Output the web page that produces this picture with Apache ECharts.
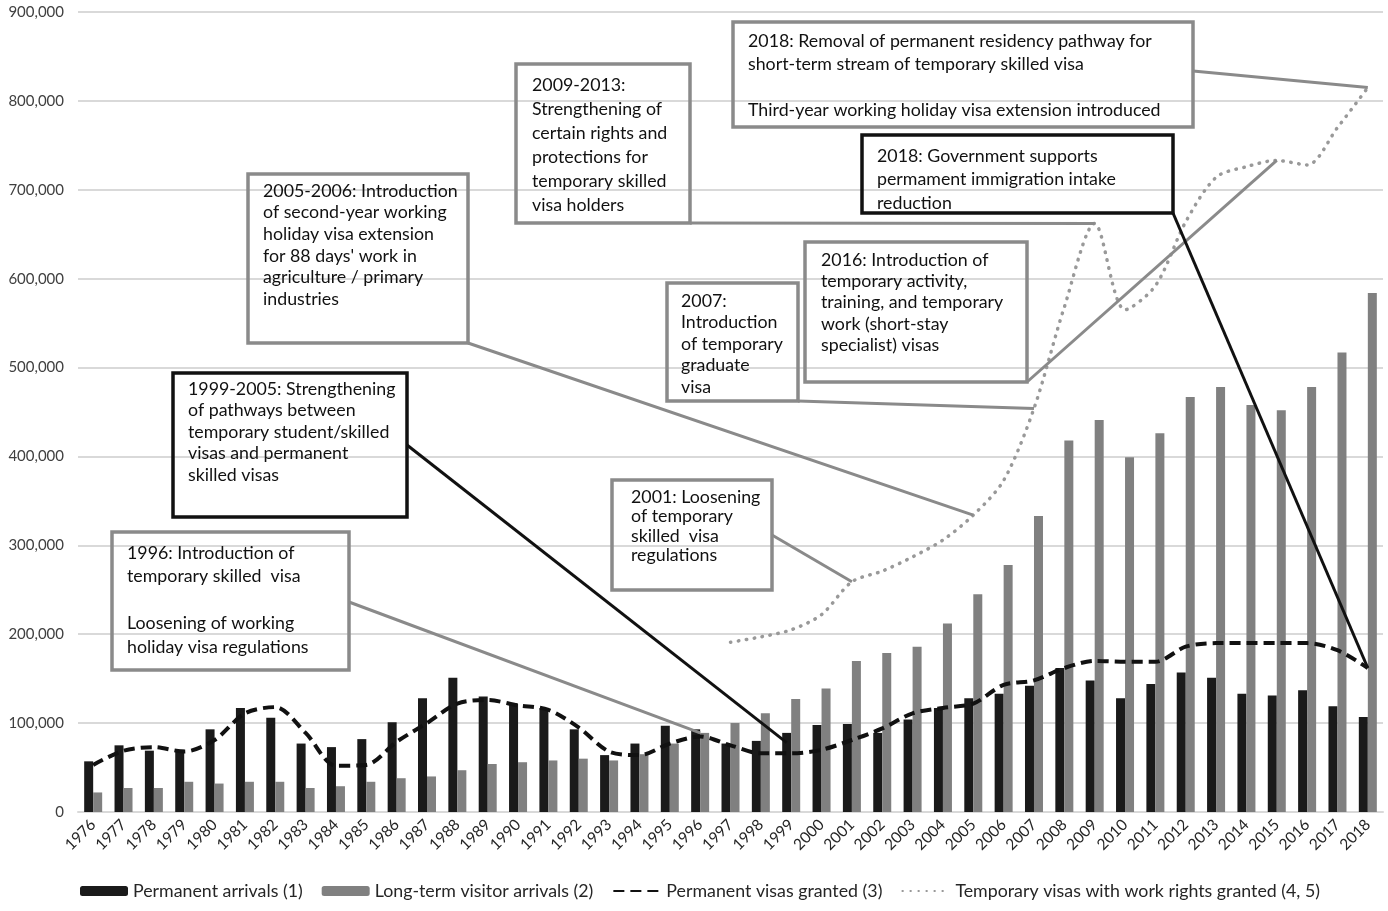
<!DOCTYPE html>
<html>
<head>
<meta charset="utf-8">
<script src="https://cdn.jsdelivr.net/npm/echarts@6/dist/echarts.min.js"></script>
<style>
html,body{margin:0;padding:0;background:#fff;}
#chart{width:1388px;height:911px;}
</style>
</head>
<body>
<div id="chart"></div>
<script>
// ---------- DATA ----------
const years = ['1976','1977','1978','1979','1980','1981','1982','1983','1984','1985','1986','1987','1988','1989','1990','1991','1992','1993','1994','1995','1996','1997','1998','1999','2000','2001','2002','2003','2004','2005','2006','2007','2008','2009','2010','2011','2012','2013','2014','2015','2016','2017','2018'];
const permanentArrivals = [57000,75000,69000,70000,93000,117000,106000,77000,73000,82000,101000,128000,151000,130000,122000,117000,93000,64000,77000,97000,93000,77000,80000,89000,98000,99000,89000,104000,117000,128000,133000,142000,162000,148000,128000,144000,157000,151000,133000,131000,137000,119000,107000];
const longTermVisitorArrivals = [22000,27000,27000,34000,32000,34000,34000,27000,29000,34000,38000,40000,47000,54000,56000,58000,60000,58000,65000,77000,89000,100000,111000,127000,139000,170000,179000,186000,212000,245000,278000,333000,418000,441000,399000,426000,467000,478000,458000,452000,478000,517000,584000];
const permanentVisasGranted = [53000,69000,73000,68000,81000,111000,118000,89000,52000,53000,79000,100000,122000,126000,120000,115000,95000,68000,64000,77000,85000,75000,66000,66000,70000,81000,94000,111000,117000,122000,143000,148000,162000,170000,169000,169000,186000,190000,190000,190000,190000,182000,162000];
const temporaryVisasWorkRights = [null,null,null,null,null,null,null,null,null,null,null,null,null,null,null,null,null,null,null,null,null,191000,197000,205000,222000,259000,271000,287000,306000,334000,373000,454000,568000,662000,565000,592000,664000,714000,726000,733000,728000,770000,815000];
const yTicks = [0,100000,200000,300000,400000,500000,600000,700000,800000,900000];
const seriesNames = ['Permanent arrivals (1)','Long-term visitor arrivals (2)','Permanent visas granted (3)','Temporary visas with work rights granted (4, 5)'];

// annotation texts and the data point each leader points to
const notes = [
  {lines:['1996: Introduction of','temporary skilled  visa','','Loosening of working','holiday visa regulations'], target:['1996', 89000]},
  {lines:['1999-2005: Strengthening','of pathways between','temporary student/skilled','visas and permanent','skilled visas'], target:['1999', 78000]},
  {lines:['2005-2006: Introduction','of second-year working','holiday visa extension',"for 88 days' work in",'agriculture / primary','industries'], target:['2005', 334000]},
  {lines:['2001: Loosening','of temporary','skilled  visa','regulations'], target:['2001', 259000]},
  {lines:['2007:','Introduction','of temporary','graduate','visa'], target:['2007', 454000]},
  {lines:['2009-2013:','Strengthening of','certain rights and','protections for','temporary skilled','visa holders'], target:['2009', 662000]},
  {lines:['2016: Introduction of','temporary activity,','training, and temporary','work (short-stay','specialist) visas'], target:['2015', 733000]},
  {lines:['2018: Government supports','permament immigration intake','reduction'], target:['2018', 162000]},
  {lines:['2018: Removal of permanent residency pathway for','short-term stream of temporary skilled visa','','Third-year working holiday visa extension introduced'], target:['2018', 815000]}
];

// ---------- LAYOUT / STYLE ----------
const FONT = 'Lato';
const NOTE_FONT_SIZE = 17.8;
const GRAY_BOX = '#8a8a8a';
const BLACK = '#111111';
const boxLayout = [
  {x:112, y:532, w:237, h:138, color:GRAY_BOX, lh:23.5, ty:553, tx:127, anchor:[349,602]},
  {x:173, y:373, w:234, h:144, color:BLACK, lh:21.5, ty:389, tx:188, anchor:[407,445], dx:-4.5},
  {x:248, y:174, w:220, h:169, color:GRAY_BOX, lh:21.6, ty:191, tx:263, anchor:[468,343]},
  {x:612, y:480, w:160, h:110, color:GRAY_BOX, lh:19.5, ty:497, tx:631, anchor:[772,535]},
  {x:667, y:283, w:131, h:118, color:GRAY_BOX, lh:21.5, ty:301, tx:681, anchor:[798,401]},
  {x:516, y:64, w:174, h:159, color:GRAY_BOX, lh:24, ty:85, tx:532, anchor:[690,223]},
  {x:805, y:242, w:222, h:140, color:GRAY_BOX, lh:21.3, ty:260, tx:821, anchor:[1027,382]},
  {x:862, y:135, w:311, h:78, color:BLACK, lh:23.5, ty:156, tx:877, anchor:[1173,213]},
  {x:733, y:22, w:460, h:105, color:GRAY_BOX, lh:23, ty:41, tx:748, anchor:[1193,71]}
];

const chart = echarts.init(document.getElementById('chart'), null, {renderer:'canvas'});
const option = {
  animation:false,
  backgroundColor:'#ffffff',
  textStyle:{fontFamily:FONT},
  grid:{left:78, right:5, top:12, bottom:99, containLabel:false},
  legend:{
    left:75, bottom:6, itemWidth:48, itemHeight:10, itemGap:19,
    textStyle:{fontFamily:FONT, fontSize:17.8, color:'#262626'},
    data:[
      {name:seriesNames[0]},
      {name:seriesNames[1]},
      {name:seriesNames[2], itemStyle:{opacity:0}},
      {name:seriesNames[3], itemStyle:{opacity:0}}
    ]
  },
  xAxis:{
    type:'category', data:years,
    axisLine:{show:true, lineStyle:{color:'#d9d9d9', width:2}},
    axisTick:{show:false},
    axisLabel:{rotate:45, fontSize:15.5, color:'#262626', margin:10, fontFamily:FONT, interval:0}
  },
  yAxis:{
    type:'value', min:yTicks[0], max:yTicks[yTicks.length-1], interval:yTicks[1]-yTicks[0],
    axisLine:{show:false}, axisTick:{show:false},
    axisLabel:{fontSize:15, color:'#404040', margin:14, fontFamily:FONT,
      formatter:v=>v.toLocaleString('en-US')},
    splitLine:{lineStyle:{color:'#d9d9d9', width:2}}
  },
  series:[
    {name:seriesNames[0], type:'bar', data:permanentArrivals, barWidth:9, barGap:'0%',
      itemStyle:{color:'#1a1a1a'}, z:2},
    {name:seriesNames[1], type:'bar', data:longTermVisitorArrivals, barWidth:9, barGap:'0%',
      itemStyle:{color:'#808080'}, z:2},
    {name:seriesNames[2], type:'line', data:permanentVisasGranted, smooth:0.3, symbol:'none',
      lineStyle:{color:'#111111', width:4, type:[11,6]}, itemStyle:{color:'#111111'}, z:4},
    {name:seriesNames[3], type:'line', data:temporaryVisasWorkRights, smooth:0.3, symbol:'none',
      connectNulls:false,
      lineStyle:{color:'#999999', width:3.5, type:[0.5,7.5], cap:'round'}, itemStyle:{color:'#999999'}, z:4}
  ]
};
chart.setOption(option);

const graphics = [];
notes.forEach((n, i) => {
  const L = boxLayout[i];
  const p = chart.convertToPixel({xAxisIndex:0, yAxisIndex:0}, n.target);
  const tx = p[0] + (L.dx || 0);
  graphics.push({type:'line', z:10, silent:true,
    shape:{x1:L.anchor[0], y1:L.anchor[1], x2:tx, y2:p[1]},
    style:{stroke:L.color, lineWidth:3}});
  graphics.push({type:'rect', z:11, silent:true,
    shape:{x:L.x, y:L.y, width:L.w, height:L.h},
    style:{fill:'rgba(0,0,0,0)', stroke:L.color, lineWidth:3.5}});
  n.lines.forEach((t, k) => {
    if (!t) return;
    graphics.push({type:'text', z:12, silent:true,
      x:L.tx, y:L.ty + k*L.lh,
      style:{text:t, font:NOTE_FONT_SIZE + 'px ' + FONT, fill:'#111111', verticalAlign:'middle'}});
  });
});
chart.setOption({graphic:graphics});
</script>
</body>
</html>
